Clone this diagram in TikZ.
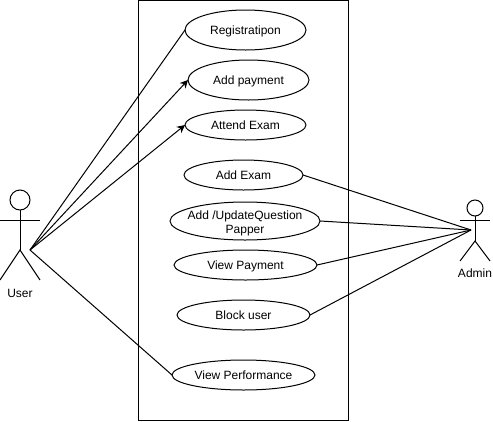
\documentclass[tikz,border=0pt]{standalone}
\usepackage{fontspec}
\setmainfont{Liberation Sans}
\usetikzlibrary{shapes.geometric,arrows.meta}
\tikzset{
  usecase/.style={draw=black,ellipse,inner sep=0pt,outer sep=0pt,line width=1pt},
  uclabel/.style={label={[align=center,inner sep=0pt,yshift=-2pt,font=\fontsize{12}{14}\selectfont]center:#1}},
  conn/.style={draw=black,line width=1pt},
  arr/.style={conn,-{Stealth[length=8pt,width=8pt]}},
  actorlbl/.style={font=\fontsize{12}{14}\selectfont,inner sep=0pt}
}
\begin{document}
\begin{tikzpicture}[x=1pt,y=-1pt]
\useasboundingbox (0,0) rectangle (493,421);
\fill[white] (0,0) rectangle (493,421);
\node[draw=black,line width=1pt,minimum width=210pt,minimum height=420pt,inner sep=0pt,outer sep=0pt] (system) at (243,210) {};
\node[usecase,minimum width=121pt,minimum height=40pt,uclabel={\strut Registratipon}] (reg) at (245.5,30) {};
\node[usecase,minimum width=121pt,minimum height=40pt,uclabel={\strut Add payment}] (pay) at (248.5,80) {};
\node[usecase,minimum width=121pt,minimum height=30pt,uclabel={\strut Attend Exam}] (att) at (245.5,125) {};
\node[usecase,minimum width=119pt,minimum height=30pt,uclabel={\strut Add Exam}] (exam) at (243.5,175) {};
\node[usecase,minimum width=150pt,minimum height=38pt,uclabel={Add /UpdateQuestion\\Papper}] (upd) at (245,221) {};
\node[usecase,minimum width=143pt,minimum height=30pt,uclabel={\strut View Payment}] (vpay) at (245.5,265) {};
\node[usecase,minimum width=133pt,minimum height=30pt,uclabel={\strut Block user}] (block) at (243.5,315) {};
\node[usecase,minimum width=143pt,minimum height=30pt,uclabel={\strut View Performance}] (perf) at (243.5,375) {};
% user actor
\node[draw=black,circle,line width=1pt,minimum size=20pt,inner sep=0pt,outer sep=0pt] (uhead) at (20,200) {};
\coordinate (uhip) at (20,250);
\coordinate (uhand) at (30,250);
\draw[conn] (uhead.south) -- (uhip);
\draw[conn] (0,220) -- (40,220);
\draw[conn] (0,280) -- (uhip) -- (40,280);
\node[actorlbl] (ulabel) at (20,293) {User};
% admin actor
\node[draw=black,circle,line width=1pt,minimum size=16pt,inner sep=0pt,outer sep=0pt] (ahead) at (475,208) {};
\coordinate (ahip) at (475,241);
\coordinate (ahand) at (471,230);
\draw[conn] (ahead.south) -- (ahip);
\draw[conn] (460,220) -- (490,220);
\draw[conn] (460,261) -- (ahip) -- (490,261);
\node[actorlbl] (alabel) at (475,273) {Admin};
% connectors
\draw[conn] (uhand) -- (reg.west);
\draw[arr] (uhand) -- (pay.west);
\draw[arr] (uhand) -- (att.west);
\draw[conn] (uhand) -- (perf.west);
\draw[conn] (ahand) -- (exam.east);
\draw[conn] (ahand) -- (upd.east);
\draw[conn] (ahand) -- (vpay.east);
\draw[conn] (ahand) -- (block.east);
\end{tikzpicture}
\end{document}
